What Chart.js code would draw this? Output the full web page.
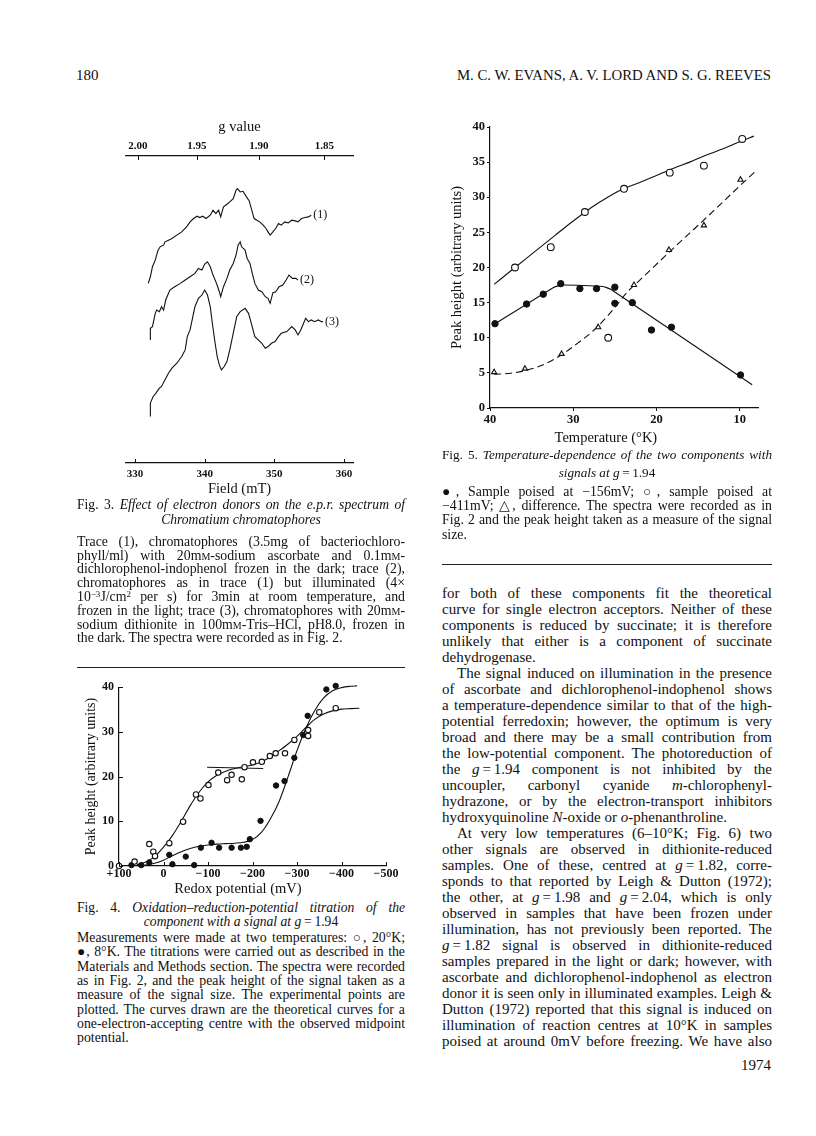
<!DOCTYPE html>
<html>
<head>
<meta charset="utf-8">
<script src="https://cdn.jsdelivr.net/npm/chart.js@4.4.0/dist/chart.umd.min.js"></script>
<style>
  body { margin: 0; background: #fff; }
  #page { position: relative; width: 816px; height: 1136px; overflow: hidden;
          font-family: "Liberation Serif", "Times New Roman", serif; color: #111; }
  .ln { position: absolute; }
  .j { text-align: justify; text-align-last: justify; }
  .c { text-align: center; }
  .r { text-align: right; }
  .i { text-align: justify; text-align-last: justify; text-indent: 15px; }
  .sc { font-variant: small-caps; }
  .sup { position: relative; top: -4px; font-size: 9px; line-height: 0; }
  .rule { position: absolute; height: 0; border-top: 1.5px solid #222; }
  canvas { position: absolute; }
</style>
</head>
<body>
<div id="page">
  <canvas id="fig3" width="320" height="390" style="left:80px;top:110px"></canvas>
  <canvas id="fig4" width="330" height="225" style="left:76px;top:675px"></canvas>
  <canvas id="fig5" width="340" height="340" style="left:440px;top:110px"></canvas>
  <div class="rule" style="left:77px;top:667px;width:328px"></div>
  <div class="rule" style="left:442px;top:564px;width:330px"></div>
</div>
<script>
// Fig. 3 - e.p.r. traces (field in mT, signal in arbitrary units)
const fieldTicks = [330, 340, 350, 360];
const gTicks = [2.00, 1.95, 1.90, 1.85];
const G_FIELD = 660.8; // g * B (mT) for the spectrometer frequency

const trace1Field = [331.9,332.2,332.5,332.9,333.3,333.6,334.1,334.3,334.8,335.3,336.0,336.7,337.4,337.9,338.4,338.9,339.3,339.7,340.2,340.8,341.2,341.6,342.0,342.3,342.7,343.2,343.6,344.1,344.5,344.7,345.1,345.5,346.0,346.4,346.7,347.1,347.5,347.9,348.4,348.8,349.1,349.4,349.8,350.2,350.6,351.0,351.5,352.0,352.5,353.0,353.4,353.9,354.4,354.9,355.3];
const trace1Signal = [54.0,56.0,59.0,61.0,64.0,65.0,65.5,66.5,67.0,67.5,68.5,69.5,71.0,72.5,73.5,74.2,73.8,74.2,73.5,74.5,76.0,75.0,76.0,74.0,77.0,77.8,78.5,79.5,82.0,82.5,81.5,81.7,80.0,78.8,76.5,73.5,73.0,72.5,71.5,70.5,69.5,68.5,69.5,70.5,72.0,71.5,72.5,72.2,73.0,72.8,72.5,73.5,73.8,74.0,74.5];
const trace2Field = [332.2,332.2,332.5,332.9,333.1,333.5,333.8,334.1,334.4,335.0,335.7,336.5,337.2,337.9,338.6,339.1,339.6,340.0,340.4,340.8,341.2,341.7,342.1,342.3,342.7,343.2,343.6,344.1,344.5,344.8,345.1,345.3,345.8,346.1,346.5,346.9,347.2,347.7,348.2,348.7,349.1,349.4,349.8,350.2,350.7,351.2,351.7,352.1,352.6,353.1,353.4];
const trace2Signal = [37.0,40.5,41.0,45.0,46.0,45.5,47.0,46.0,49.0,52.0,53.0,54.0,55.0,56.0,57.0,58.5,58.0,59.8,60.5,59.0,56.5,54.0,51.5,50.0,53.0,55.5,58.0,60.0,62.5,65.5,66.5,65.0,64.0,61.5,60.0,56.5,54.0,52.0,51.5,50.0,49.5,48.0,51.2,51.5,53.0,53.5,55.0,56.5,55.5,55.5,55.0];
const trace3Field = [332.2,332.2,332.6,333.0,333.5,333.8,334.3,334.8,335.3,336.0,336.7,337.2,337.5,337.9,338.3,338.6,339.1,339.6,340.0,340.4,340.8,341.1,341.5,341.8,342.1,342.4,342.8,343.2,343.6,344.1,344.6,345.1,345.8,346.3,346.7,347.2,347.7,348.2,348.7,349.1,349.6,350.1,350.6,351.0,351.8,352.5,353.0,353.4,353.8,354.2,354.5,354.9,355.3,355.8,356.3,356.8,357.0];
const trace3Signal = [14.0,18.0,20.0,21.0,22.5,23.0,25.0,27.0,28.5,30.0,32.0,34.0,38.0,40.0,44.0,47.0,49.5,50.5,52.0,50.5,47.0,42.0,36.0,32.0,29.5,28.0,29.0,30.5,34.0,39.0,44.0,45.5,46.5,45.0,42.0,38.0,37.0,36.0,34.5,35.0,36.0,36.5,38.0,39.0,39.5,41.0,40.0,38.5,40.0,42.0,43.5,42.5,43.0,42.5,43.0,42.5,42.5];

// Fig. 4 - redox titration
const redoxTicks = [100, 0, -100, -200, -300, -400, -500];
const fig4HeightTicks = [0, 10, 20, 30, 40];
const open20mV = [100,65,32,23,19,-13,-44,-73,-83,-101,-123,-143,-153,-176,-182,-201,-221,-239,-252,-273,-294,-325,-325,-350,-387];
const open20H = [0,1.0,4.9,3.2,2.2,5.1,9.9,16.0,15.1,18.1,20.9,19.2,20.4,19.4,22.1,23.2,23.3,24.6,25.2,25.2,28.2,30.4,29.1,34.4,35.3];
const filled8mV = [72,50,32,-13,-20,-50,-69,-84,-108,-125,-153,-174,-187,-194,-218,-253,-272,-294,-314,-324,-366,-387];
const filled8H = [0.2,0.2,0.8,2.5,0.4,2.1,0.2,4.1,5.2,4.1,4.1,4.1,4.3,6.0,10.1,18.0,19.0,24.2,29.3,33.6,39.5,40.3];
const curve20mV = [60,40,20,0,-20,-40,-60,-80,-100,-120,-140,-160,-180,-200,-220,-240,-260,-280,-300,-320,-340,-360,-380,-400,-420,-440];
const curve20H = [0.3,0.9,2.1,4.2,6.8,10.0,13.5,16.5,18.8,20.3,21.2,21.8,22.2,22.6,23.3,24.4,25.8,27.3,29.0,31.0,32.8,34.0,34.7,35.1,35.2,35.3];
const curve8mV = [60,40,20,0,-20,-40,-60,-80,-100,-120,-140,-160,-180,-200,-220,-240,-260,-280,-300,-320,-340,-360,-380,-400,-420,-435];
const curve8H = [0.05,0.2,0.6,1.3,2.3,3.2,3.9,4.4,4.7,4.9,5.0,5.1,5.3,5.9,7.5,10.5,14.5,20.0,25.8,30.8,34.8,37.6,39.2,39.9,40.2,40.3];
const midLineMV = [-98, -224];
const midLineH = [22.1, 21.8];

// Fig. 5 - temperature dependence
const tempTicks = [40, 30, 20, 10];
const fig5HeightTicks = [0, 5, 10, 15, 20, 25, 30, 35, 40];
const openT = [37.0,32.7,28.6,25.8,23.9,18.4,14.3,9.7];
const openH = [20.0,22.9,27.9,10.0,31.2,33.5,34.5,38.3];
const filledT = [39.4,35.6,33.6,31.5,29.2,27.2,25.0,25.0,22.9,20.6,18.2,9.9];
const filledH = [12.0,14.8,16.2,17.7,17.0,17.0,17.2,14.9,15.0,11.1,11.5,4.7];
const triT = [39.5,35.8,31.4,27.0,22.7,18.5,14.3,9.9];
const triH = [5.1,5.6,7.7,11.5,17.5,22.5,26.0,32.5];
const openCurveT = [39.5,37,35,33,31,29,27.5,26,24,22,20,18,16,14,12,10,8.3];
const openCurveH = [17.6,20.0,21.9,23.8,25.7,27.5,28.8,29.9,31.2,32.1,33.1,34.1,35.0,36.0,36.9,37.9,38.7];
const filledCurveT = [39.5,32.3,31.3,26.5,25.5,8.5];
const filledCurveH = [11.9,17.2,17.5,17.3,16.9,3.3];
const diffCurveT = [39.5,37.5,35.5,33.5,31.5,29.5,27.5,25.5,23.5,22,18,14,10,8];
const diffCurveH = [4.8,4.95,5.4,6.2,7.5,9.2,11.1,13.6,16.5,18.2,22.7,27.1,31.6,33.8];

const zip = (xs, ys) => xs.map((x, i) => ({x: x, y: ys[i]}));
const INK = '#111';

Chart.defaults.font.family = '"Liberation Serif", "Times New Roman", serif';
Chart.defaults.color = INK;
Chart.defaults.animation = false;

// ticks that point into the plot
const innerTicks = {
  id: 'innerTicks',
  afterDatasetsDraw(chart) {
    const ctx = chart.ctx;
    ctx.save();
    ctx.strokeStyle = INK;
    ctx.lineWidth = 1;
    Object.values(chart.scales).forEach(s => {
      const len = s.options.innerTick;
      if (!len) return;
      s.ticks.forEach(t => {
        const p = Math.round(s.getPixelForValue(t.value)) + 0.5;
        ctx.beginPath();
        if (s.position === 'bottom') { ctx.moveTo(p, s.top); ctx.lineTo(p, s.top - len); }
        else if (s.position === 'top') { ctx.moveTo(p, s.bottom); ctx.lineTo(p, s.bottom + len); }
        else { ctx.moveTo(s.right, p); ctx.lineTo(s.right + len, p); }
        ctx.stroke();
      });
    });
    ctx.restore();
  }
};

const endLabels = {
  id: 'endLabels',
  afterDatasetsDraw(chart) {
    const ctx = chart.ctx;
    chart.data.datasets.forEach((ds, i) => {
      if (!ds.endLabel) return;
      const pts = chart.getDatasetMeta(i).data;
      const p = pts[pts.length - 1];
      ctx.save();
      ctx.font = '12px "Liberation Serif"';
      ctx.fillStyle = INK;
      ctx.textBaseline = 'middle';
      ctx.fillText(ds.endLabel, p.x + 2, p.y);
      ctx.restore();
    });
  }
};

const tickFont = size => ({size: size, weight: 'bold'});
const setTicks = arr => scale => { scale.ticks = arr.map(v => ({value: v})); };
const noGrid = {display: false, drawTicks: false};
const base = {
  responsive: false,
  devicePixelRatio: 1,
  animation: false,
  plugins: {legend: {display: false}, tooltip: {enabled: false}},
};

// Fig. 3
const traceStyle = {borderColor: INK, borderWidth: 1.1, pointRadius: 0, tension: 0, fill: false, clip: false};
new Chart(document.getElementById('fig3'), {
  type: 'scatter',
  data: {
    datasets: [
      Object.assign({data: zip(trace1Field, trace1Signal), showLine: true, endLabel: '(1)'}, traceStyle),
      Object.assign({data: zip(trace2Field, trace2Signal), showLine: true, endLabel: '(2)'}, traceStyle),
      Object.assign({data: zip(trace3Field, trace3Signal), showLine: true, endLabel: '(3)'}, traceStyle),
    ]
  },
  options: Object.assign({}, base, {
    layout: {padding: {left: 46, right: 47, top: 0, bottom: 0}},
    scales: {
      x: {
        type: 'linear', position: 'bottom', min: 328.7, max: 361.3,
        afterBuildTicks: setTicks(fieldTicks),
        afterFit: s => { s.height = 37; },
        grid: noGrid, border: {color: INK, width: 1.2},
        ticks: {padding: 5, font: tickFont(11)},
        title: {display: true, text: 'Field (mT)', font: {size: 14.5}, padding: {top: 0, bottom: 2}},
        innerTick: 4
      },
      g: {
        type: 'linear', position: 'top', min: 328.7, max: 361.3,
        afterBuildTicks: scale => { scale.ticks = gTicks.map(g => ({value: G_FIELD / g})); },
        afterFit: s => { s.height = 46; },
        grid: noGrid, border: {color: INK, width: 1.2},
        ticks: {padding: 3, font: tickFont(11), callback: v => (G_FIELD / v).toFixed(2)},
        title: {display: true, text: 'g value', font: {size: 14.5}, padding: {top: 8, bottom: 0}},
        innerTick: 4
      },
      y: {display: false, min: 0, max: 92.3}
    }
  }),
  plugins: [innerTicks, endLabels]
});

// Fig. 4
const ptOpen = {pointStyle: 'circle', pointBackgroundColor: '#fff', pointBorderColor: INK, pointBorderWidth: 1.1, showLine: false, clip: false};
const ptFilled = {pointStyle: 'circle', pointBackgroundColor: INK, pointBorderColor: INK, pointBorderWidth: 1, showLine: false, clip: false};
const curve = {showLine: true, pointRadius: 0, borderColor: INK, borderWidth: 1.1, cubicInterpolationMode: 'monotone', clip: false};
const fmtMV = v => v > 0 ? '+' + v : (v < 0 ? '\u2212' + Math.abs(v) : '0');

new Chart(document.getElementById('fig4'), {
  type: 'scatter',
  data: {
    datasets: [
      Object.assign({data: zip(open20mV, open20H), pointRadius: 2.7}, ptOpen),
      Object.assign({data: zip(filled8mV, filled8H), pointRadius: 2.7}, ptFilled),
      Object.assign({data: zip(curve20mV, curve20H)}, curve),
      Object.assign({data: zip(curve8mV, curve8H)}, curve),
      Object.assign({data: zip(midLineMV, midLineH)}, curve, {cubicInterpolationMode: 'default', tension: 0}),
    ]
  },
  options: Object.assign({}, base, {
    layout: {padding: {left: 0, right: 20, top: 12, bottom: 0}},
    scales: {
      x: {
        type: 'linear', reverse: true, min: -500, max: 100,
        afterBuildTicks: setTicks(redoxTicks),
        afterFit: s => { s.height = 34; },
        grid: noGrid, border: {color: INK, width: 1.2},
        ticks: {padding: 1, font: tickFont(12), callback: fmtMV},
        title: {display: true, text: 'Redox potential (mV)\u2003\u2003', font: {size: 14.5}, padding: {top: 0, bottom: 2}},
        innerTick: 4
      },
      y: {
        type: 'linear', min: 0, max: 40,
        afterBuildTicks: setTicks(fig4HeightTicks),
        afterFit: s => { s.width = 43; },
        grid: noGrid, border: {color: INK, width: 1.2},
        ticks: {padding: 5, font: tickFont(12)},
        title: {display: true, text: 'Peak height (arbitrary units)', font: {size: 14}, padding: {top: 7, bottom: 0}},
        innerTick: 4
      }
    }
  }),
  plugins: [innerTicks]
});

// Fig. 5
new Chart(document.getElementById('fig5'), {
  type: 'scatter',
  data: {
    datasets: [
      Object.assign({data: zip(openT, openH), pointRadius: 3.4}, ptOpen),
      Object.assign({data: zip(filledT, filledH), pointRadius: 3.2}, ptFilled),
      Object.assign({data: zip(triT, triH), pointRadius: 3}, ptOpen, {pointStyle: 'triangle'}),
      Object.assign({data: zip(openCurveT, openCurveH)}, curve),
      Object.assign({data: zip(filledCurveT, filledCurveH)}, curve, {cubicInterpolationMode: 'default', tension: 0.15}),
      Object.assign({data: zip(diffCurveT, diffCurveH), borderDash: [7, 4]}, curve),
    ]
  },
  options: Object.assign({}, base, {
    layout: {padding: {left: 0, right: 22, top: 17, bottom: 0}},
    scales: {
      x: {
        type: 'linear', reverse: true, min: 7.8, max: 40,
        afterBuildTicks: setTicks(tempTicks),
        afterFit: s => { s.height = 42; },
        grid: {display: true, drawOnChartArea: false, drawTicks: true, tickLength: 3, color: INK},
        border: {color: INK, width: 1.2},
        ticks: {padding: 1, font: tickFont(12.5)},
        title: {display: true, text: 'Temperature (\u00b0K)\u2003\u2003\u2002', font: {size: 14.5}, padding: {top: 0, bottom: 3}}
      },
      y: {
        type: 'linear', min: 0, max: 40,
        afterBuildTicks: setTicks(fig5HeightTicks),
        afterFit: s => { s.width = 50; },
        grid: {display: true, drawOnChartArea: false, drawTicks: true, tickLength: 3, color: INK},
        border: {color: INK, width: 1.2},
        ticks: {padding: 2, font: tickFont(12.5)},
        title: {display: true, text: 'Peak height (arbitrary units)', font: {size: 14.5}, padding: {top: 8, bottom: 0}}
      }
    }
  }),
});

// page text, one div per printed line
const page = document.getElementById('page');
function block(x, w, y0, step, size, lines) {
  lines.forEach((l, i) => {
    const d = document.createElement('div');
    d.className = 'ln ' + (l[1] || '');
    d.style.left = x + 'px';
    d.style.width = w + 'px';
    d.style.top = (y0 + i * step - step / 2) + 'px';
    d.style.height = step + 'px';
    d.style.fontSize = size + 'px';
    d.style.lineHeight = step + 'px';
    d.innerHTML = l[0];
    page.appendChild(d);
  });
}
const mM = 'm<span class="sc">m</span>';

block(76, 100, 75, 18, 15, [['180']]);
block(400, 371, 75, 18, 14.8, [['M. C. W. EVANS, A. V. LORD AND S. G. REEVES', 'r']]);
block(600, 171, 1065, 18, 15, [['1974', 'r']]);

// left column
block(77, 328, 505.5, 14.5, 13.6, [
  ['Fig. 3. <i>Effect of electron donors on the e.p.r. spectrum of</i>', 'j'],
  ['<i>Chromatium chromatophores</i>', 'c'],
]);
block(77, 328, 541.7, 13.8, 13.8, [
  ['Trace (1), chromatophores (3.5mg of bacteriochloro-', 'j'],
  ['phyll/ml) with 20' + mM + '-sodium ascorbate and 0.1' + mM + '-', 'j'],
  ['dichlorophenol-indophenol frozen in the dark; trace (2),', 'j'],
  ['chromatophores as in trace (1) but illuminated (4\u00d7', 'j'],
  ['10<span class="sup">\u22123</span>J/cm<span class="sup">2</span> per s) for 3min at room temperature, and', 'j'],
  ['frozen in the light; trace (3), chromatophores with 20' + mM + '-', 'j'],
  ['sodium dithionite in 100' + mM + '-Tris\u2013HCl, pH8.0, frozen in', 'j'],
  ['the dark. The spectra were recorded as in Fig. 2.', ''],
]);
block(77, 328, 907.7, 14.3, 13.6, [
  ['Fig. 4. <i>Oxidation\u2013reduction-potential titration of the</i>', 'j'],
  ['<i>component with a signal at g</i>\u2009=\u20091.94', 'c'],
]);
block(77, 328, 938.3, 14.3, 13.8, [
  ['Measurements were made at two temperatures: \u25cb, 20\u00b0K;', 'j'],
  ['\u25cf, 8\u00b0K. The titrations were carried out as described in the', 'j'],
  ['Materials and Methods section. The spectra were recorded', 'j'],
  ['as in Fig. 2, and the peak height of the signal taken as a', 'j'],
  ['measure of the signal size. The experimental points are', 'j'],
  ['plotted. The curves drawn are the theoretical curves for a', 'j'],
  ['one-electron-accepting centre with the observed midpoint', 'j'],
  ['potential.', ''],
]);

// right column
block(442, 330, 455, 17.3, 13.2, [
  ['Fig. 5. <i>Temperature-dependence of the two components with</i>', 'j'],
  ['<i>signals at g</i>\u2009=\u20091.94', 'c'],
]);
block(442, 330, 491.7, 14.4, 13.8, [
  ['\u25cf, Sample poised at \u2212156mV; \u25cb, sample poised at', 'j'],
  ['\u2212411mV; \u25b3, difference. The spectra were recorded as in', 'j'],
  ['Fig. 2 and the peak height taken as a measure of the signal', 'j'],
  ['size.', ''],
]);
block(442, 330, 593.3, 16, 15, [
  ['for both of these components fit the theoretical', 'j'],
  ['curve for single electron acceptors. Neither of these', 'j'],
  ['components is reduced by succinate; it is therefore', 'j'],
  ['unlikely that either is a component of succinate', 'j'],
  ['dehydrogenase.', ''],
  ['The signal induced on illumination in the presence', 'i'],
  ['of ascorbate and dichlorophenol-indophenol shows', 'j'],
  ['a temperature-dependence similar to that of the high-', 'j'],
  ['potential ferredoxin; however, the optimum is very', 'j'],
  ['broad and there may be a small contribution from', 'j'],
  ['the low-potential component. The photoreduction of', 'j'],
  ['the <i>g</i>\u2009=\u20091.94 component is not inhibited by the', 'j'],
  ['uncoupler, carbonyl cyanide <i>m</i>-chlorophenyl-', 'j'],
  ['hydrazone, or by the electron-transport inhibitors', 'j'],
  ['hydroxyquinoline <i>N</i>-oxide or <i>o</i>-phenanthroline.', ''],
  ['At very low temperatures (6\u201310\u00b0K; Fig. 6) two', 'i'],
  ['other signals are observed in dithionite-reduced', 'j'],
  ['samples. One of these, centred at <i>g</i>\u2009=\u20091.82, corre-', 'j'],
  ['sponds to that reported by Leigh &amp; Dutton (1972);', 'j'],
  ['the other, at <i>g</i>\u2009=\u20091.98 and <i>g</i>\u2009=\u20092.04, which is only', 'j'],
  ['observed in samples that have been frozen under', 'j'],
  ['illumination, has not previously been reported. The', 'j'],
  ['<i>g</i>\u2009=\u20091.82 signal is observed in dithionite-reduced', 'j'],
  ['samples prepared in the light or dark; however, with', 'j'],
  ['ascorbate and dichlorophenol-indophenol as electron', 'j'],
  ['donor it is seen only in illuminated examples. Leigh &amp;', 'j'],
  ['Dutton (1972) reported that this signal is induced on', 'j'],
  ['illumination of reaction centres at 10\u00b0K in samples', 'j'],
  ['poised at around 0mV before freezing. We have also', 'j'],
]);
</script>
</body>
</html>
